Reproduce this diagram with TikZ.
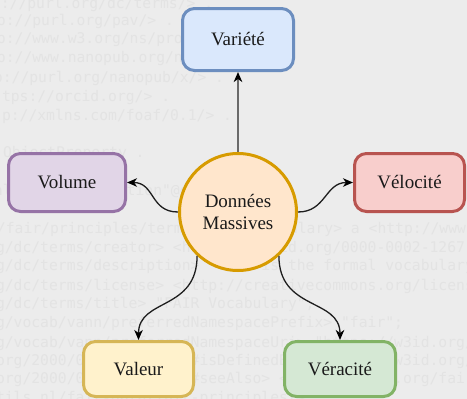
\documentclass[tikz,border=0pt]{standalone}
\usepackage{fontspec}
\setmainfont{Liberation Serif}
\newfontfamily\bgmono{DejaVu Sans Mono}
\usetikzlibrary{arrows.meta}
\definecolor{bg}{HTML}{ECECEC}
\definecolor{bgtext}{HTML}{E3E3E3}
\definecolor{txt}{HTML}{1A1A1A}
\definecolor{lnk}{HTML}{1E1E1E}
\definecolor{grayline}{HTML}{6A6A6A}
\definecolor{blueF}{HTML}{DAE8FC}\definecolor{blueD}{HTML}{6C8EBF}
\definecolor{purpF}{HTML}{E1D5E7}\definecolor{purpD}{HTML}{9673A6}
\definecolor{redF}{HTML}{F8CECC}\definecolor{redD}{HTML}{B85450}
\definecolor{yelF}{HTML}{FFF2CC}\definecolor{yelD}{HTML}{D6B656}
\definecolor{grnF}{HTML}{D5E8D4}\definecolor{grnD}{HTML}{82B366}
\definecolor{orF}{HTML}{FFE6CC}\definecolor{orD}{HTML}{D79B00}
\begin{document}
\begin{tikzpicture}[x=1pt,y=-1pt,
  bgtxt/.style={anchor=base west, inner sep=0pt, outer sep=0pt, text=bgtext,
    font=\bgmono\fontsize{14.7}{17}\selectfont},
  vbox/.style={rectangle, rounded corners=12pt, line width=3pt, minimum height=58pt,
    minimum width=110pt, inner sep=0pt, text=txt, font=\fontsize{19}{22}\selectfont},
  hub/.style={circle, line width=3pt, minimum size=117pt, inner sep=0pt, align=center,
    text=txt, font=\fontsize{19}{22}\selectfont, fill=orF, draw=orD},
  tip/.style={-{Stealth[length=10pt,width=8.5pt,inset=3pt,color=black]}},
  conn/.style={draw=lnk, line width=1.3pt, tip},
]
\fill[bg] (0,0) rectangle (467,399);
\useasboundingbox (0,0) rectangle (467,399);
\begin{scope}
\clip (0,0) rectangle (467,399);
\node[bgtxt] (b1) at (-8,8) {p://purl.org/dc/terms/> .};
\node[bgtxt] (b2) at (-3,25) {p://purl.org/pav/> .};
\node[bgtxt] (b3) at (-3,43) {p://www.w3.org/ns/prov\#> .};
\node[bgtxt] (b4) at (-3,62) {p://www.nanopub.org/nschema\#> .};
\node[bgtxt] (b5) at (-6,82) {p://purl.org/nanopub/x/> .};
\node[bgtxt] (b6) at (2,101) {tps://orcid.org/> .};
\node[bgtxt] (b7) at (2,120) {p://xmlns.com/foaf/0.1/> .};
\node[bgtxt] (b9) at (3,157) {ObjectProperty .};
\node[bgtxt] (b11) at (-6,195) {al  "Nanopublication"@en .};
\node[bgtxt] (b13) at (-3,233) {/fair/principles/terms/FAIR-Vocabulary> a <http://www.w3.org/2002/07/owl\#Ontology> ;};
\node[bgtxt] (b14) at (-4,252) {g/dc/terms/creator> <https://orcid.org/0000-0002-1267-0234> ;};
\node[bgtxt] (b15) at (-4,270) {g/dc/terms/description> "This is the formal vocabulary (namespace) of the FAIR Principles" ;};
\node[bgtxt] (b16) at (-4,290) {g/dc/terms/license> <http://creativecommons.org/licenses/by/4.0/> ;};
\node[bgtxt] (b17) at (-4,308) {g/dc/terms/title> "FAIR Vocabulary";};
\node[bgtxt] (b18) at (-4,327) {g/vocab/vann/preferredNamespacePrefix> "fair";};
\node[bgtxt] (b19) at (-4,347) {g/vocab/vann/preferredNamespaceUri> "https://w3id.org/fair/principles/terms/";};
\node[bgtxt] (b20) at (-4,365) {org/2000/01/rdf-schema\#isDefinedBy> <https://w3id.org/fair/principles/terms/> ;};
\node[bgtxt] (b21) at (-4,383) {org/2000/01/rdf-schema\#seeAlso> <https://w3id.org/fair/principles/> ;};
\node[bgtxt] (b22) at (-4,402) {tils.nl/fair-data/fair-principles/> ;};
\end{scope}

\node[hub] (c) at (238,212) {Données\\Massives};
\node[vbox, fill=blueF, draw=blueD, minimum width=111pt, minimum height=62pt] (var) at (238,39.5) {Variété};
\node[vbox, fill=purpF, draw=purpD, minimum width=117pt] (vol) at (67,182.5) {Volume};
\node[vbox, fill=redF, draw=redD] (vel) at (409.5,182.5) {Vélocité};
\node[vbox, fill=yelF, draw=yelD, minimum height=55pt] (val) at (138.5,369) {Valeur};
\node[vbox, fill=grnF, draw=grnD, minimum width=111pt, minimum height=55pt] (ver) at (340,369) {Véracité};

\draw[draw=grayline, line width=2pt, tip] (c.north) -- (var.south);
\draw[conn] (c.west) .. controls +(-28,0) and +(28,0) .. (vol.east);
\draw[conn] (c.east) .. controls +(28,0) and +(-28,0) .. (vel.west);
\draw[conn] (c.227) .. controls +(0,55) and +(0,-42) .. (val.north);
\draw[conn] (c.313) .. controls +(0,55) and +(0,-42) .. (ver.north);
\end{tikzpicture}
\end{document}
